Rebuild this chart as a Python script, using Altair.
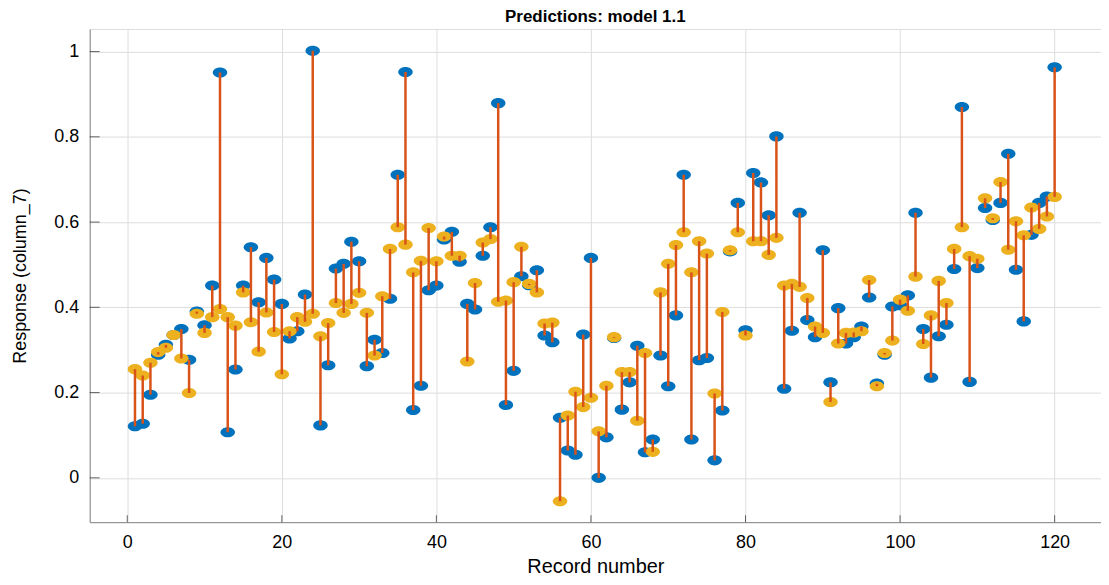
import altair as alt
import pandas as pd

# Record numbers 1..120
records = list(range(1, 121))

# True response (blue markers)
true_vals = [
    0.121, 0.127, 0.195, 0.289, 0.312, 0.335, 0.349, 0.277, 0.390, 0.358,
    0.451, 0.951, 0.107, 0.254, 0.451, 0.541, 0.412, 0.516, 0.465, 0.408,
    0.327, 0.344, 0.430, 1.002, 0.123, 0.264, 0.491, 0.502, 0.554, 0.508,
    0.262, 0.324, 0.293, 0.420, 0.711, 0.952, 0.159, 0.216, 0.440, 0.451,
    0.559, 0.577, 0.507, 0.408, 0.395, 0.521, 0.588, 0.879, 0.171, 0.251,
    0.473, 0.452, 0.487, 0.334, 0.318, 0.141, 0.064, 0.054, 0.336, 0.516,
    0.000, 0.095, 0.328, 0.160, 0.224, 0.310, 0.060, 0.090, 0.287, 0.215,
    0.381, 0.711, 0.090, 0.276, 0.281, 0.041, 0.158, 0.531, 0.645, 0.346,
    0.715, 0.693, 0.616, 0.801, 0.209, 0.345, 0.622, 0.370, 0.330, 0.534,
    0.224, 0.398, 0.315, 0.330, 0.355, 0.423, 0.221, 0.289, 0.402, 0.405,
    0.428, 0.622, 0.349, 0.235, 0.332, 0.359, 0.490, 0.870, 0.225, 0.492,
    0.633, 0.605, 0.645, 0.760, 0.488, 0.367, 0.570, 0.645, 0.660, 0.963,
]

# Predicted response (yellow markers)
pred_vals = [
    0.255, 0.240, 0.270, 0.295, 0.305, 0.335, 0.280, 0.199, 0.385, 0.340,
    0.377, 0.396, 0.377, 0.357, 0.435, 0.365, 0.296, 0.388, 0.342, 0.243,
    0.344, 0.377, 0.366, 0.385, 0.332, 0.363, 0.410, 0.387, 0.408, 0.434,
    0.387, 0.287, 0.426, 0.537, 0.588, 0.547, 0.482, 0.509, 0.586, 0.508,
    0.566, 0.521, 0.521, 0.273, 0.457, 0.552, 0.560, 0.413, 0.416, 0.459,
    0.542, 0.455, 0.435, 0.362, 0.364, -0.055, 0.146, 0.202, 0.166, 0.188,
    0.109, 0.216, 0.330, 0.248, 0.248, 0.134, 0.293, 0.061, 0.435, 0.502,
    0.546, 0.576, 0.482, 0.555, 0.526, 0.198, 0.389, 0.534, 0.576, 0.334,
    0.555, 0.555, 0.523, 0.563, 0.451, 0.455, 0.448, 0.422, 0.355, 0.340,
    0.178, 0.315, 0.340, 0.341, 0.344, 0.464, 0.215, 0.293, 0.322, 0.418,
    0.392, 0.472, 0.314, 0.381, 0.462, 0.410, 0.537, 0.588, 0.520, 0.514,
    0.656, 0.609, 0.694, 0.535, 0.602, 0.569, 0.634, 0.584, 0.613, 0.659,
]

x_ticks = [0, 20, 40, 60, 80, 100, 120]
y_ticks = [0, 0.2, 0.4, 0.6, 0.8, 1.0]
title_text = ["Predictions: model 1.1"]

BLUE = "#0072BD"
YELLOW = "#EDB120"
ORANGE = "#D95319"
AXIS = "#262626"
FONT = "Liberation Sans"

W, H = 1015, 495

df = pd.DataFrame({"record": records, "true": true_vals, "pred": pred_vals})
xt = pd.DataFrame({"xt": x_ticks})
yt = pd.DataFrame({"yt": y_ticks})
tt = pd.DataFrame({"t": title_text})

ellipse = "M -1 0 A 1 0.7 0 1 0 1 0 A 1 0.7 0 1 0 -1 0 Z"

xscale = alt.Scale(domain=[-4.86, 126.0], nice=False, zero=False)
yscale = alt.Scale(domain=[-0.104, 1.053], nice=False, zero=False)

xaxis = alt.Axis(
    values=x_ticks, title="Record number", grid=True, tickSize=0,
    labelPadding=11, titlePadding=6, labelFontSize=18, titleFontSize=20,
    titleFontWeight="normal",
)
yaxis = alt.Axis(
    values=y_ticks, title="Response (column_7)", grid=True, tickSize=0,
    labelPadding=11, titlePadding=24, format="~g", labelFontSize=18,
    titleFontSize=18, titleFontWeight="normal",
)

base = alt.Chart(df)

blue = base.mark_point(shape=ellipse, size=210, filled=True, opacity=1,
                       color=BLUE, strokeWidth=0).encode(
    x=alt.X("record:Q", scale=xscale, axis=xaxis),
    y=alt.Y("true:Q", scale=yscale, axis=yaxis),
)
yellow = base.mark_point(shape=ellipse, size=210, filled=True, opacity=1,
                         color=YELLOW, strokeWidth=0).encode(
    x="record:Q", y="pred:Q",
)
stems = base.mark_rule(color=ORANGE, strokeWidth=2.5).encode(
    x="record:Q", y="true:Q", y2="pred:Q",
)

ytick_marks = alt.Chart(yt).mark_tick(orient="horizontal", size=10,
                                      thickness=1, color=AXIS).encode(
    y="yt:Q", x=alt.value(5),
)
xtick_marks = alt.Chart(xt).mark_tick(orient="vertical", size=7,
                                      thickness=1, color=AXIS).encode(
    x="xt:Q", y=alt.value(H - 3.5),
)

title_mark = alt.Chart(tt).mark_text(
    font=FONT, fontSize=17, fontWeight="bold", color="#000000",
    align="center", baseline="middle",
).encode(text="t:N", x=alt.value(W / 2), y=alt.value(-12))

chart = alt.layer(blue, yellow, stems, ytick_marks, xtick_marks,
                  title_mark).properties(
    width=W, height=H,
    autosize=alt.AutoSizeParams(type="none"),
    padding={"left": 82, "top": 20, "right": 0, "bottom": 57},
).configure_view(stroke=None).configure_axis(
    domainColor=AXIS, domainWidth=1, labelColor=AXIS, titleColor=AXIS,
    labelFont=FONT, titleFont=FONT, titleFontWeight="normal",
    gridColor="#e3e3e3", gridWidth=1,
).configure(background="white")

chart.save("out.html", embed_options={"renderer": "svg", "actions": False})
